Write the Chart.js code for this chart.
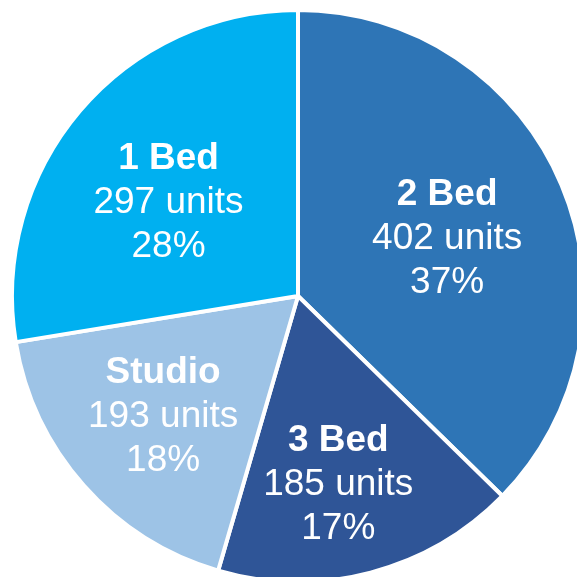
<!DOCTYPE html>
<html>
<head>
<meta charset="utf-8">
<script src="https://cdn.jsdelivr.net/npm/chart.js@4.4.1/dist/chart.umd.min.js"></script>
<style>
  html, body { margin: 0; padding: 0; background: #fff; overflow: hidden; width: 577px; height: 577px; }
  #wrap { position: absolute; left: 0; top: 0; width: 596px; height: 592px; }
</style>
</head>
<body>
<div id="wrap"><canvas id="pie" width="596" height="592"></canvas></div>
<script>
// unit mix, clockwise from 12 o'clock
const categories = ['2 Bed', '3 Bed', 'Studio', '1 Bed'];
const units      = [402, 185, 193, 297];
const sliceColors = ['#2E75B6', '#2F5597', '#9DC3E6', '#00B0F0'];

const total = units.reduce((a, b) => a + b, 0);

// ── slice labels (name / units / pct) ─────
const sliceLabels = {
  id: 'sliceLabels',
  afterDatasetsDraw(chart, args, opts) {
    const { ctx } = chart;
    const meta = chart.getDatasetMeta(0);
    ctx.save();
    ctx.fillStyle = '#fff';
    ctx.textAlign = 'center';
    ctx.textBaseline = 'middle';
    meta.data.forEach((arc, i) => {
      const p = arc.getProps(['x', 'y', 'startAngle', 'endAngle', 'outerRadius'], true);
      const mid = (p.startAngle + p.endAngle) / 2 + (opts.turn[i] || 0);
      const r = p.outerRadius * opts.dist[i];
      const x = p.x + Math.cos(mid) * r;
      const y = p.y + Math.sin(mid) * r + 1;
      const lh = 44;
      ctx.font = 'bold 37px "Liberation Sans", Arial, sans-serif';
      ctx.fillText(categories[i], x, y - lh);
      ctx.font = '37px "Liberation Sans", Arial, sans-serif';
      ctx.fillText(units[i] + ' units', x, y);
      ctx.fillText(Math.round(units[i] / total * 100) + '%', x, y + lh);
    });
    ctx.restore();
  }
};

new Chart(document.getElementById('pie').getContext('2d'), {
  type: 'pie',
  data: {
    labels: categories,
    datasets: [{
      data: units,
      backgroundColor: sliceColors,
      borderColor: '#fff',
      borderWidth: 4
    }]
  },
  options: {
    responsive: false,
    animation: false,
    radius: 286,
    layout: { padding: 0 },
    plugins: {
      legend: { display: false },
      tooltip: { enabled: false },
      sliceLabels: {
        dist: [0.56, 0.67, 0.63, 0.56],
        turn: [0.025, 0.045, 0, -0.075]
      }
    }
  },
  plugins: [sliceLabels]
});
</script>
</body>
</html>
